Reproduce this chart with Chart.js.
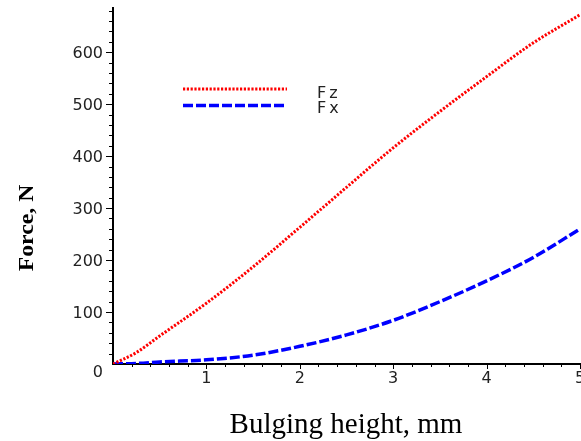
<!DOCTYPE html>
<html>
<head>
<meta charset="utf-8">
<script src="https://cdn.jsdelivr.net/npm/chart.js@4.4.1/dist/chart.umd.min.js"></script>
<style>
  html, body { margin: 0; padding: 0; background: #fff; }
  #wrap { width: 581px; height: 441px; }
</style>
</head>
<body>
<div id="wrap"><canvas id="forceChart" width="581" height="441"></canvas></div>
<script>
// bulging height (mm) and the two force components (N)
const heights = [0, 0.25, 0.5, 1, 1.5, 2, 2.5, 3, 3.5, 4, 4.5, 5]
const forceZ = [0, 22, 54, 117, 187, 263, 340, 416, 486, 553, 618, 672]
const forceX = [0, 1, 4, 8, 17, 34, 56, 84, 120, 160, 205, 260]

const yTicks = [0, 100, 200, 300, 400, 500, 600]
const xTicks = [1, 2, 3, 4, 5]
const seriesNames = ["Fz", "Fx"]

const TICK_FONT = "16px 'DejaVu Sans'"
const INK = "#222"

function toPoints(xs, ys) {
  return xs.map((x, i) => ({ x: x, y: ys[i] }))
}

// axes, ticks and titles drawn in the old Maple style
const mapleAxes = {
  id: "mapleAxes",
  beforeDatasetsDraw(chart) {
    const { ctx, chartArea: a, scales } = chart
    const x = scales.x
    const y = scales.y
    ctx.save()
    ctx.strokeStyle = "#000"
    ctx.lineWidth = 2
    ctx.beginPath()
    ctx.moveTo(a.left, a.top)
    ctx.lineTo(a.left, a.bottom + 1)
    ctx.moveTo(a.left - 1, a.bottom)
    ctx.lineTo(a.right + 1, a.bottom)
    ctx.stroke()

    // y ticks every 20 N, longer ones at the labelled values
    ctx.lineWidth = 1
    ctx.beginPath()
    for (let v = 20; v <= y.max; v += 20) {
      const py = Math.round(y.getPixelForValue(v)) + 0.5
      const len = v % 100 === 0 ? 7 : 4
      ctx.moveTo(a.left - len, py)
      ctx.lineTo(a.left, py)
    }
    // x ticks every 0.2 mm
    for (let i = 1; i <= 25; i++) {
      const px = Math.round(x.getPixelForValue(i / 5)) + 0.5
      const len = i % 5 === 0 ? 5 : 3
      ctx.moveTo(px, a.bottom)
      ctx.lineTo(px, a.bottom + len)
    }
    ctx.stroke()
    ctx.restore()
  },
  afterDraw(chart) {
    const { ctx, chartArea: a, scales } = chart
    const x = scales.x
    const y = scales.y
    ctx.save()
    ctx.fillStyle = INK
    ctx.font = TICK_FONT
    ctx.textBaseline = "alphabetic"

    ctx.textAlign = "right"
    yTicks.forEach((v) => {
      const py = y.getPixelForValue(v)
      ctx.fillText(String(v), a.left - 10, v === 0 ? py + 13 : py + 6)
    })

    ctx.textAlign = "center"
    xTicks.forEach((v) => {
      ctx.fillText(String(v), x.getPixelForValue(v), a.bottom + 19)
    })

    // axis titles
    ctx.fillStyle = "#000"
    ctx.font = "29px 'Liberation Serif'"
    ctx.fillText("Bulging height, mm", 346, 433)

    ctx.translate(33, 228)
    ctx.rotate(-Math.PI / 2)
    ctx.scale(1.13, 1)
    ctx.font = "bold 21px 'Liberation Serif'"
    ctx.fillText("Force, N", 0, 0)
    ctx.restore()

    // legend: line samples with the series names on the right
    ctx.save()
    const rows = [89, 105.5]
    chart.data.datasets.forEach((ds, i) => {
      ctx.strokeStyle = ds.borderColor
      ctx.lineWidth = ds.borderWidth
      ctx.setLineDash(ds.borderDash)
      ctx.beginPath()
      ctx.moveTo(183, rows[i])
      ctx.lineTo(287, rows[i])
      ctx.stroke()
    })
    ctx.fillStyle = INK
    ctx.font = TICK_FONT
    ctx.letterSpacing = "3px"
    ctx.textAlign = "left"
    ctx.fillText(seriesNames[0], 317, 97.5)
    ctx.fillText(seriesNames[1], 317, 113)
    ctx.restore()
  },
}

const ctx = document.getElementById("forceChart").getContext("2d")

new Chart(ctx, {
  type: "line",
  data: {
    datasets: [
      {
        label: seriesNames[0],
        data: toPoints(heights, forceZ),
        borderColor: "#ff0000",
        borderWidth: 3,
        borderDash: [2.2, 1.6],
        pointRadius: 0,
        fill: false,
        cubicInterpolationMode: "monotone",
      },
      {
        label: seriesNames[1],
        data: toPoints(heights, forceX),
        borderColor: "#0000ff",
        borderWidth: 3.5,
        borderDash: [10, 3],
        pointRadius: 0,
        fill: false,
        cubicInterpolationMode: "monotone",
      },
    ],
  },
  options: {
    responsive: false,
    animation: false,
    events: [],
    layout: {
      padding: { left: 113, right: 1, top: 7, bottom: 77 },
    },
    plugins: {
      legend: { display: false },
      tooltip: { enabled: false },
    },
    scales: {
      x: { type: "linear", min: 0, max: 5, display: false },
      y: { type: "linear", min: 0, max: 687, display: false },
    },
  },
  plugins: [mapleAxes],
})
</script>
</body>
</html>
